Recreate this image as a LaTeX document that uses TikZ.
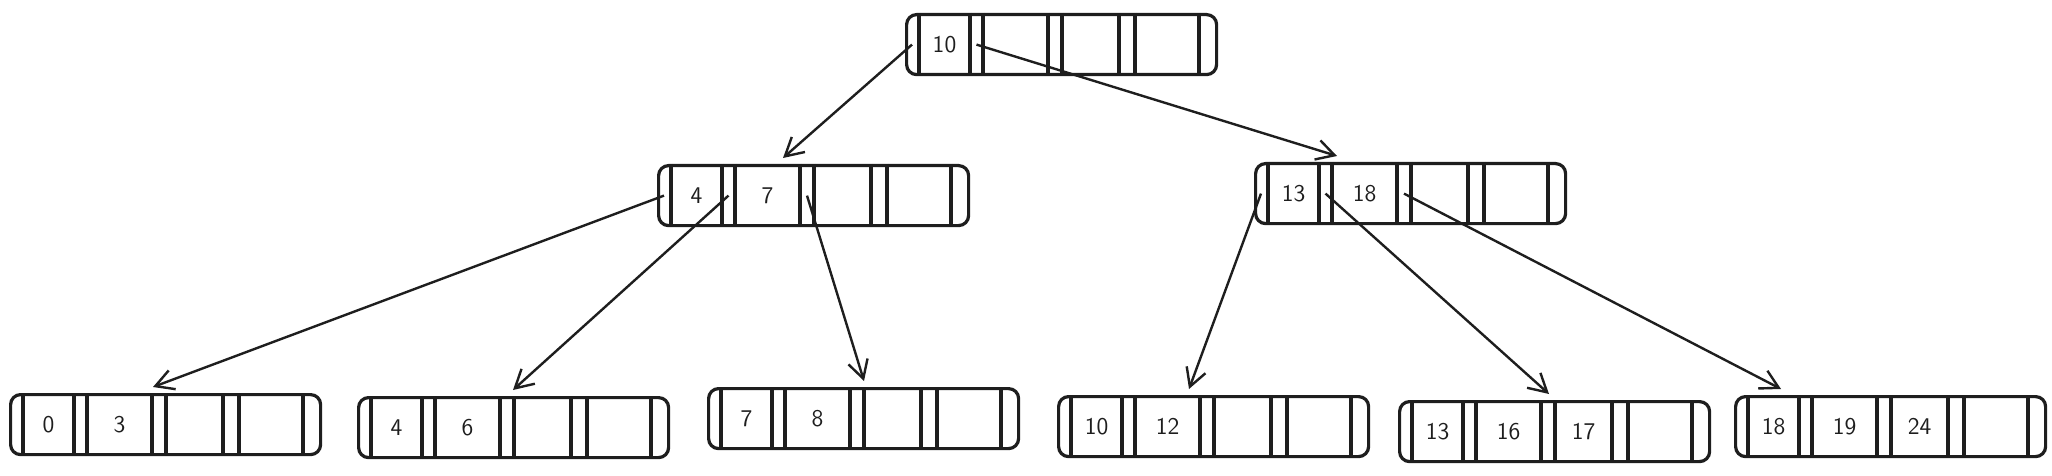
\documentclass[tikz,border=0pt]{standalone}
\usetikzlibrary{arrows.meta}
\definecolor{ink}{HTML}{1E1E1E}

\begin{document}
\begin{tikzpicture}[
        x=0.5pt, y=-0.5pt,
        bnode/.style={
            draw=ink,
            line width=1.6pt,
            rounded corners=5pt,
            anchor=north west,
            minimum width=155pt,
            minimum height=30pt,
            inner sep=0pt},
        divider/.style={draw=ink, line width=1.6pt},
        key/.style={font=\sffamily\large, text=ink},
        myarrow/.style={-{Straight Barb[length=9pt,width=10pt]}, draw=ink, line width=1.2pt}
        ]
        \useasboundingbox (0,0) rectangle (2052,476);

        % the b-tree nodes, with their cell lines and pointer slots
        \foreach \n/\x/\y in {r/905/13, a/657/164, b/1254/162,
            l1/9/393, l2/357/396, l3/707/387, l4/1057/395, l5/1398/400, l6/1734/395} {
            \node[bnode] (\n) at (\x,\y) {};
            \foreach \d in {14,65,78,143,157,214,230,294}
                \draw[divider] ([xshift=\d*0.5pt]\n.north west) -- ([xshift=\d*0.5pt]\n.south west);
            \foreach \i/\d in {0/7,1/71.5,2/150,3/222,4/302}
                \coordinate (\n-p\i) at ([xshift=\d*0.5pt]\n.west);
        }

        \foreach \n/\c/\d/\txt in {% node/cell/offset/key
            r/1/39.5/10,
            a/1/39.5/4, a/2/110.5/7,
            b/1/39.5/13, b/2/110.5/18,
            l1/1/39.5/0, l1/2/110.5/3,
            l2/1/39.5/4, l2/2/110.5/6,
            l3/1/39.5/7, l3/2/110.5/8,
            l4/1/39.5/10, l4/2/110.5/12,
            l5/1/39.5/13, l5/2/110.5/16, l5/3/185.5/17,
            l6/1/39.5/18, l6/2/110.5/19, l6/3/185.5/24}
            \node[key] (\n-k\c) at ([xshift=\d*0.5pt]\n.west) {\txt};

        \foreach \s/\t/\d in {% pointer/child/offset of tip
            r-p0/a/126, r-p1/b/83,
            a-p0/l1/144, a-p1/l2/156, a-p2/l3/157,
            b-p0/l4/132, b-p1/l5/151, b-p2/l6/47}
            \draw[myarrow] (\s) -- ([xshift=\d*0.5pt, yshift=3pt]\t.north west);
\end{tikzpicture}
\end{document}
